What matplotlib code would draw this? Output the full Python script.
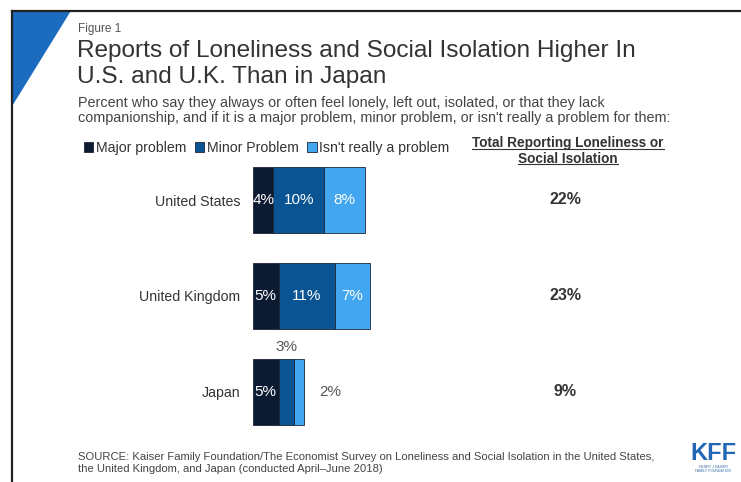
import matplotlib.pyplot as plt
from matplotlib.patches import Polygon
from matplotlib.lines import Line2D

plt.rcParams['font.family'] = ['Liberation Sans', 'DejaVu Sans']

countries = ['United States', 'United Kingdom', 'Japan']
major = [4, 5, 5]
minor = [10, 11, 3]
not_problem = [8, 7, 2]
totals = [22, 23, 9]
series_names = ['Major problem', 'Minor Problem', "Isn't really a problem"]
colors = ['#0c1b31', '#0a5494', '#42a6f0']

W, H = 741, 482
fig = plt.figure(figsize=(W / 100, H / 100), dpi=100)


def fx(px):
    return px / W


def fy(py):
    return 1 - py / H


# frame and corner triangle
fig.add_artist(Line2D([fx(12), fx(12)], [fy(11), 0], color='#222222', lw=1.6))
fig.add_artist(Line2D([fx(12), 1], [fy(11), fy(11)], color='#222222', lw=1.6))
fig.add_artist(Polygon([(fx(12), fy(11)), (fx(70), fy(11)), (fx(12), fy(105))],
                       closed=True, color='#1b6bbf', transform=fig.transFigure))

fig.text(fx(78), fy(29), 'Figure 1', fontsize=8.5, color='#555555', va='center')
fig.text(fx(77), fy(51), 'Reports of Loneliness and Social Isolation Higher In',
         fontsize=17.6, color='#333333', va='center')
fig.text(fx(77), fy(77), 'U.S. and U.K. Than in Japan',
         fontsize=17.6, color='#333333', va='center')
fig.text(fx(78), fy(103), 'Percent who say they always or often feel lonely, left out, isolated, or that they lack',
         fontsize=10.4, color='#444444', va='center')
fig.text(fx(78), fy(118), "companionship, and if it is a major problem, minor problem, or isn't really a problem for them:",
         fontsize=10.4, color='#444444', va='center')

# bars
ax = fig.add_axes([fx(253), fy(440), fx(400), 288 / H])
px_per_pct = 5.1
ax.set_xlim(0, 400 / px_per_pct)
ax.set_ylim(2.5, -0.5)
ypos = list(range(len(countries)))
left = [0] * len(countries)
for vals, name, c in zip([major, minor, not_problem], series_names, colors):
    ax.barh(ypos, vals, left=left, height=0.68, color=c, label=name,
            edgecolor='#1a2533', linewidth=0.6)
    for i, v in enumerate(vals):
        cx = left[i] + v / 2
        if v >= 4:
            ax.text(cx, i, f'{v}%', color='white', fontsize=11, ha='center', va='center')
        elif name == 'Minor Problem':
            ax.text(cx, i - 0.4, f'{v}%', color='#555555', fontsize=11, ha='center', va='bottom')
        else:
            ax.text(left[i] + v + 3, i, f'{v}%', color='#555555', fontsize=11, ha='left', va='center')
    left = [l + v for l, v in zip(left, vals)]

for i, t in enumerate(totals):
    ax.text(61.2, i, f'{t}%', color='#333333', fontsize=11.5, fontweight='bold',
            ha='center', va='center')

ax.set_yticks(ypos)
ax.set_yticklabels(countries, fontsize=10.2, color='#333333')
ax.tick_params(axis='y', length=0, pad=9)
ax.set_xticks([])
for s in ax.spines.values():
    s.set_visible(False)
ax.patch.set_alpha(0)

ax.legend(loc='center left', bbox_to_anchor=(fx(84), fy(148)), bbox_transform=fig.transFigure,
          ncol=3, frameon=False, fontsize=10.2, handlelength=0.65, handleheight=0.65,
          handletextpad=0.2, columnspacing=0.6, borderaxespad=0, borderpad=0,
          labelcolor='#333333')

# header of totals column, underlined
h1 = fig.text(fx(568), fy(143), 'Total Reporting Loneliness or', fontsize=9.8,
              fontweight='bold', color='#333333', ha='center', va='center')
h2 = fig.text(fx(568), fy(159), 'Social Isolation', fontsize=9.8,
              fontweight='bold', color='#333333', ha='center', va='center')
fig.canvas.draw()
r = fig.canvas.get_renderer()
for t in (h1, h2):
    bb = t.get_window_extent(r)
    fig.add_artist(Line2D([bb.x0 / W, bb.x1 / W], [(bb.y0 + 1.5) / H] * 2,
                          color='#333333', lw=0.8))

fig.text(fx(78), fy(457), 'SOURCE: Kaiser Family Foundation/The Economist Survey on Loneliness and Social Isolation in the United States,',
         fontsize=8.1, color='#444444', va='center')
fig.text(fx(78), fy(469), 'the United Kingdom, and Japan (conducted April\u2013June 2018)',
         fontsize=8.1, color='#444444', va='center')

# logo
fig.text(fx(713), fy(454), 'KFF', fontsize=17, fontweight='bold', color='#2167b5',
         ha='center', va='center')
fig.text(fx(713), fy(469), 'HENRY J KAISER\nFAMILY FOUNDATION', fontsize=2.5, color='#3a6fa8',
         ha='center', va='center', linespacing=1.0)

fig.savefig('out.png', dpi=100)
